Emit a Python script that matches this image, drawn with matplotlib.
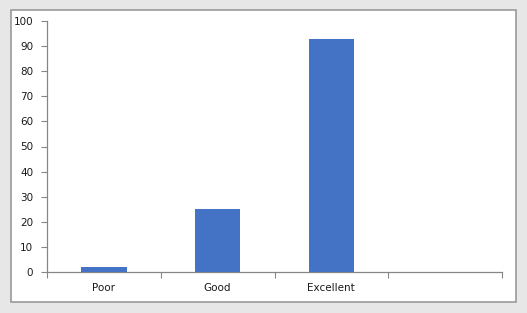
import matplotlib
matplotlib.use("Agg")
import matplotlib.pyplot as plt
from matplotlib.patches import Rectangle
import numpy as np

# donnees
categories = ["Poor", "Good", "Excellent"]
valeurs = [2, 25, 93]
n_slots = 4  # une quatrieme categorie vide a droite
yticks = list(range(0, 101, 10))

W, H = 527, 313
fig = plt.figure(figsize=(W / 100, H / 100), dpi=100)
fig.patch.set_facecolor("#e7e7e7")

# panneau blanc interieur
panneau = Rectangle((11 / W, 1 - 302 / H), (516 - 11) / W, (302 - 10) / H,
                    transform=fig.transFigure, facecolor="white",
                    edgecolor="#9a9a9a", linewidth=1.2, zorder=-1)
fig.patches.append(panneau)

ax = fig.add_axes([47 / W, 1 - 272 / H, (502 - 47) / W, (272 - 21) / H])
ax.set_zorder(2)
ax.set_facecolor("none")

x = np.arange(len(categories))
ax.bar(x, valeurs, width=0.4, color="#4472c4", zorder=3)

ax.set_xlim(-0.5, n_slots - 0.5)
ax.set_ylim(0, 100)
ax.set_yticks(yticks)

ax.set_xticks(x)
ax.set_xticklabels(categories)
ax.set_xticks(np.arange(n_slots + 1) - 0.5, minor=True)
ax.tick_params(axis="x", which="major", length=0, pad=8)
ax.tick_params(axis="x", which="minor", length=4, color="#868686", width=0.8, direction="out")
ax.tick_params(axis="y", length=4, color="#868686", width=0.8, pad=6)
ax.tick_params(labelsize=7.5, labelcolor="#1a1a1a")

for s in ["top", "right"]:
    ax.spines[s].set_visible(False)
for s in ["left", "bottom"]:
    ax.spines[s].set_color("#868686")
    ax.spines[s].set_linewidth(0.9)

fig.savefig("out.png", dpi=100, facecolor=fig.get_facecolor())
